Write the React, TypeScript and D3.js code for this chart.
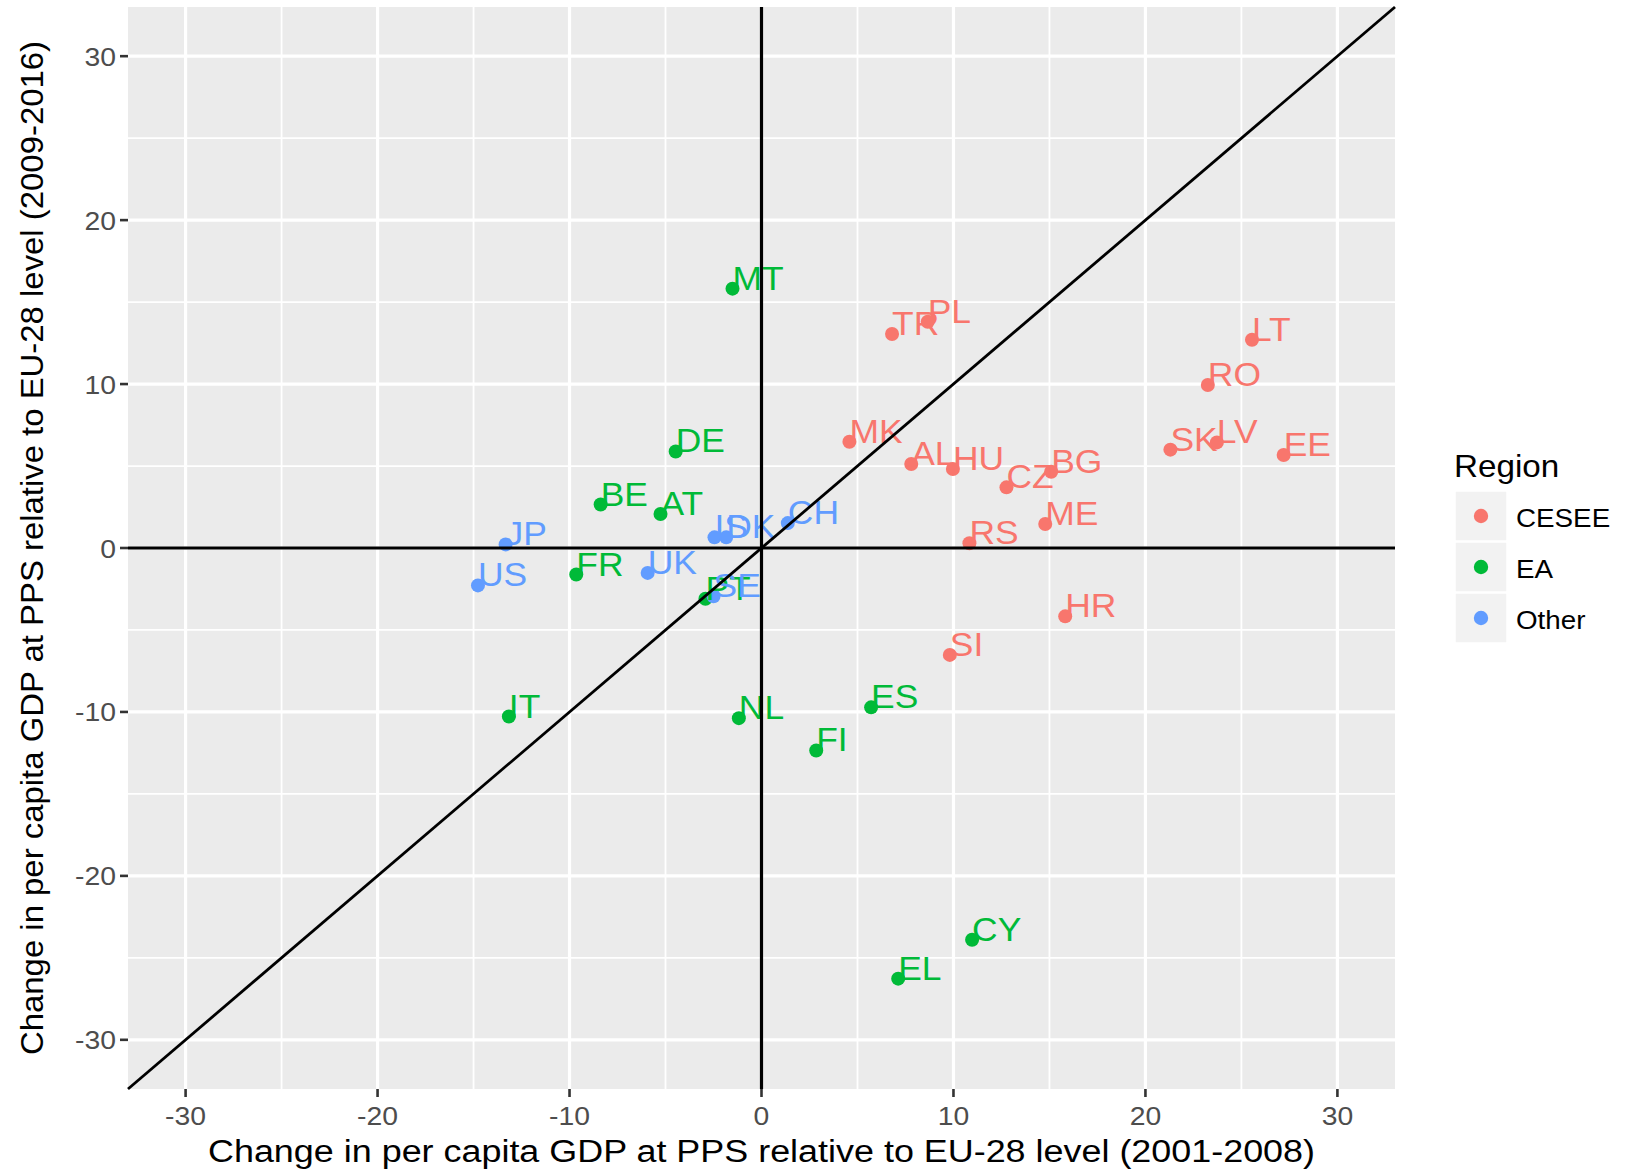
import React from "react";
import * as d3 from "d3";

const countries = ["TR","PL","LT","RO","MK","AL","HU","CZ","BG","SK","LV","EE","ME","RS","HR","SI",
  "MT","DE","BE","AT","FR","PT","IT","NL","ES","FI","CY","EL",
  "JP","US","UK","IS","DK","CH","SE"];
const regions = ["CESEE","CESEE","CESEE","CESEE","CESEE","CESEE","CESEE","CESEE","CESEE","CESEE","CESEE","CESEE","CESEE","CESEE","CESEE","CESEE",
  "EA","EA","EA","EA","EA","EA","EA","EA","EA","EA","EA","EA",
  "Other","Other","Other","Other","Other","Other","Other"];
const change0108 = [6.8,8.66,25.55,23.25,4.58,7.8,9.97,12.76,15.09,21.3,23.72,27.2,14.78,10.83,15.82,9.81,
  -1.51,-4.47,-8.38,-5.26,-9.65,-2.92,-13.16,-1.18,5.71,2.85,10.97,7.12,
  -13.33,-14.77,-5.93,-2.45,-1.84,1.37,-2.5];
const change0916 = [13.05,13.8,12.7,9.94,6.48,5.12,4.82,3.7,4.65,6.0,6.44,5.67,1.46,0.29,-4.17,-6.52,
  15.82,5.89,2.65,2.07,-1.62,-3.1,-10.28,-10.38,-9.72,-12.35,-23.9,-26.27,
  0.22,-2.28,-1.52,0.65,0.65,1.52,-2.95];

const regionNames = ["CESEE","EA","Other"];
const regionColors = ["#F8766D","#00BA38","#619CFF"];
const majorTicks = [-30,-20,-10,0,10,20,30];
const minorTicks = [-25,-15,-5,5,15,25];
const xTitle = "Change in per capita GDP at PPS relative to EU-28 level (2001-2008)";
const yTitle = "Change in per capita GDP at PPS relative to EU-28 level (2009-2016)";

const W = 1625, H = 1174;
const panel = { left: 128, right: 1395, top: 7, bottom: 1089 };
const SX = 1.09;
const FONT = "Liberation Sans, Arial, Helvetica, sans-serif";

function SText({ x, y, size, fill, anchor = "start", children }: any) {
  return (
    <text transform={`translate(${x},${y}) scale(${SX},1)`} fontSize={size} fill={fill}
      textAnchor={anchor} fontFamily={FONT}>{children}</text>
  );
}

export default function App() {
  const x = d3.scaleLinear().domain([-33, 33]).range([panel.left, panel.right]);
  const y = d3.scaleLinear().domain([-33, 33]).range([panel.bottom, panel.top]);
  const color = d3.scaleOrdinal<string, string>().domain(regionNames).range(regionColors);
  const data = countries.map((c, i) => ({ c, r: regions[i], vx: change0108[i], vy: change0916[i] }));

  return (
    <svg width={W} height={H} style={{ position: "absolute", left: 0, top: 0, background: "#fff" }}>
      <rect x={panel.left} y={panel.top} width={panel.right - panel.left} height={panel.bottom - panel.top} fill="#EBEBEB" />
      {minorTicks.map(t => (
        <g key={"mn" + t}>
          <line x1={x(t)} x2={x(t)} y1={panel.top} y2={panel.bottom} stroke="#fff" strokeWidth={1.8} />
          <line y1={y(t)} y2={y(t)} x1={panel.left} x2={panel.right} stroke="#fff" strokeWidth={1.8} />
        </g>
      ))}
      {majorTicks.map(t => (
        <g key={"mj" + t}>
          <line x1={x(t)} x2={x(t)} y1={panel.top} y2={panel.bottom} stroke="#fff" strokeWidth={3.2} />
          <line y1={y(t)} y2={y(t)} x1={panel.left} x2={panel.right} stroke="#fff" strokeWidth={3.2} />
        </g>
      ))}
      {data.map(d => (
        <circle key={"p" + d.c} cx={x(d.vx)} cy={y(d.vy)} r={7} fill={color(d.r)} />
      ))}
      {data.map(d => (
        <SText key={"t" + d.c} x={x(d.vx)} y={y(d.vy) + 1} size={32.5} fill={color(d.r)}>{d.c}</SText>
      ))}
      <line x1={x(0)} x2={x(0)} y1={panel.top} y2={panel.bottom} stroke="#000" strokeWidth={3.2} />
      <line y1={y(0)} y2={y(0)} x1={panel.left} x2={panel.right} stroke="#000" strokeWidth={3.2} />
      <line x1={x(-33)} y1={y(-33)} x2={x(33)} y2={y(33)} stroke="#000" strokeWidth={2.8} />
      {majorTicks.map(t => (
        <g key={"ax" + t}>
          <line x1={x(t)} x2={x(t)} y1={panel.bottom} y2={panel.bottom + 8} stroke="#333" strokeWidth={2.6} />
          <SText x={x(t)} y={panel.bottom + 36} size={26} fill="#4D4D4D" anchor="middle">{t}</SText>
          <line x1={panel.left - 8} x2={panel.left} y1={y(t)} y2={y(t)} stroke="#333" strokeWidth={2.6} />
          <SText x={panel.left - 12} y={y(t) + 9.5} size={26} fill="#4D4D4D" anchor="end">{t}</SText>
        </g>
      ))}
      <text x={(panel.left + panel.right) / 2} y={1162} fontSize={31} fontFamily={FONT} textAnchor="middle"
        fill="#000" textLength={1107} lengthAdjust="spacingAndGlyphs">{xTitle}</text>
      <text transform={`translate(43,${(panel.top + panel.bottom) / 2}) rotate(-90)`} fontSize={31} fontFamily={FONT}
        textAnchor="middle" fill="#000" textLength={1014} lengthAdjust="spacingAndGlyphs">{yTitle}</text>
      <SText x={1454} y={477} size={30.5} fill="#000">Region</SText>
      {regionNames.map((r, i) => {
        const top = 491 + i * 51;
        return (
          <g key={"lg" + r}>
            <rect x={1455} y={top} width={52} height={50} fill="#F2F2F2" stroke="#fff" strokeWidth={1.5} />
            <circle cx={1481} cy={top + 25} r={7.2} fill={regionColors[i]} />
            <SText x={1516} y={top + 36} size={25.5} fill="#000">{r}</SText>
          </g>
        );
      })}
    </svg>
  );
}
